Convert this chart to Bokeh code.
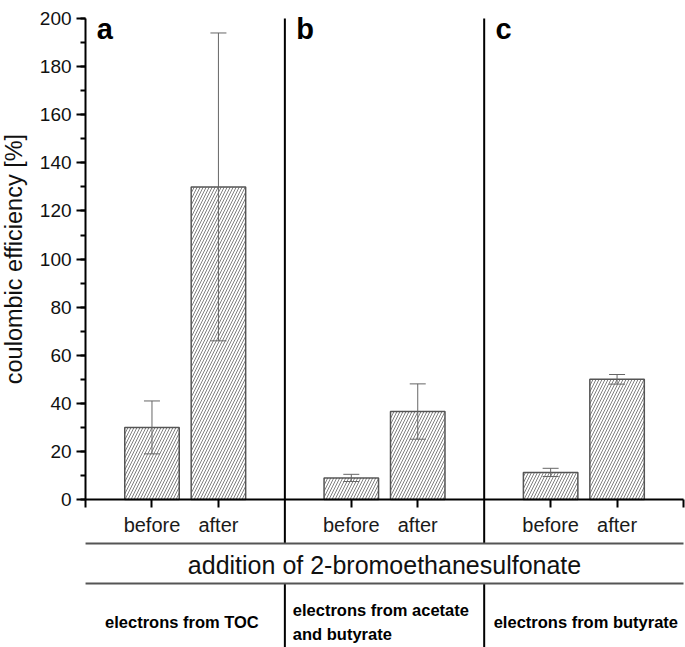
import math
from bokeh.plotting import figure
from bokeh.models import (ColumnDataSource, Whisker, TeeHead, FixedTicker,
                          SingleIntervalTicker, Range1d)
from bokeh.core.properties import value
from bokeh.embed import file_html
from bokeh.resources import INLINE

# ---- data ----
panels = ["a", "b", "c"]
conditions = ["before", "after"]
values = [30, 130, 9, 36.6, 11.3, 50]
errors = [11, 64, 1.5, 11.5, 1.7, 2]
y_label = "coulombic efficiency [%]"
group_title = "addition of 2-bromoethanesulfonate"
panel_notes = ["electrons from TOC", "electrons from acetate\nand butyrate",
               "electrons from butyrate"]
y_ticks_interval = 20
y_max = 200

FONT = "Liberation Sans"
n_panels = len(panels)
slot = len(conditions) + 1          # units per panel
x_end = n_panels * slot

xs = []
labels = []
for i, _ in enumerate(panels):
    for j, c in enumerate(conditions):
        xs.append(i * slot + 1 + j)
        labels.append(c)

src = ColumnDataSource(dict(
    x=xs, top=values, lower=[v - e for v, e in zip(values, errors)],
    upper=[v + e for v, e in zip(values, errors)]))

p = figure(width=685, height=647, output_backend="svg", toolbar_location=None,
           x_range=Range1d(-1.28, x_end + 0.03), y_range=Range1d(-61.5, 207.5),
           min_border_left=0, min_border_right=0, min_border_top=0,
           min_border_bottom=0)
p.outline_line_color = None
p.xgrid.visible = False
p.ygrid.visible = False
p.background_fill_color = "white"

# bars
p.vbar(x="x", top="top", bottom=0, width=0.82, source=src,
       fill_color="white", line_color="#555555", line_width=1.5,
       hatch_pattern="/", hatch_color="#808080", hatch_scale=6,
       hatch_weight=1)

whisk = Whisker(base="x", upper="upper", lower="lower", source=src,
                line_color="#666666", line_width=1, level="annotation",
                upper_head=TeeHead(size=16, line_color="#666666", line_width=1),
                lower_head=TeeHead(size=16, line_color="#666666", line_width=1))
p.add_layout(whisk)

# y axis at x = 0
ya = p.yaxis[0]
ya.fixed_location = 0
ya.bounds = (0, y_max)
ya.ticker = SingleIntervalTicker(interval=y_ticks_interval, num_minor_ticks=2)
ya.major_label_text_font = FONT
ya.major_label_text_font_size = "19px"
ya.major_label_text_color = "#111111"
ya.major_label_standoff = 5
ya.axis_line_width = 2
ya.major_tick_line_width = 2
ya.minor_tick_line_width = 2
ya.major_tick_out = 9
ya.major_tick_in = 0
ya.minor_tick_out = 5
ya.minor_tick_in = 0

# y axis title, centred on the 0..200 part of the axis
p.text(x=[-1.07], y=[y_max / 2], text=[y_label], angle=math.pi / 2,
       text_font=value(FONT), text_font_size="23.5px", text_color="#111111",
       text_align="center", text_baseline="alphabetic")

# x axis at y = 0
xa = p.xaxis[0]
xa.fixed_location = 0
xa.bounds = (0, x_end)
tick_pos = [0] + xs + [x_end]
xa.ticker = FixedTicker(ticks=tick_pos, minor_ticks=[])
overrides = {t: "" for t in tick_pos}
for x, l in zip(xs, labels):
    overrides[x] = l
xa.major_label_overrides = overrides
xa.major_label_text_font = FONT
xa.major_label_text_font_size = "20px"
xa.major_label_text_color = "#1a1a1a"
xa.major_label_standoff = 6
xa.axis_line_width = 2
xa.major_tick_line_width = 2
xa.major_tick_out = 8
xa.major_tick_in = 0

# panel separators
seps = [i * slot for i in range(1, n_panels)]
row1_y = -18.3
row2_y = -34.9
p.segment(x0=seps, x1=seps, y0=[y_max] * len(seps), y1=[row1_y] * len(seps),
          line_color="black", line_width=2)
p.segment(x0=seps, x1=seps, y0=[row2_y] * len(seps), y1=[-70] * len(seps),
          line_color="black", line_width=2)
# horizontal rules
p.segment(x0=[0, 0], x1=[x_end, x_end], y0=[row1_y, row2_y], y1=[row1_y, row2_y],
          line_color="#555555", line_width=2)

# panel letters
p.text(x=[i * slot + 0.17 for i in range(n_panels)], y=[195.6] * n_panels,
       text=panels, text_font=value(FONT), text_font_style="bold",
       text_font_size="29px", text_color="black", text_baseline="alphabetic",
       text_align="left")

# group title
p.text(x=[x_end / 2], y=[-27.0], text=[group_title], text_font=value(FONT),
       text_font_size="25px", text_color="#111111", text_align="center",
       text_baseline="alphabetic")

# bottom notes
p.text(x=[0 * slot + 1.45, 2 * slot + 1.53], y=[-50.7, -50.7],
       text=[panel_notes[0], panel_notes[2]], text_font=value(FONT),
       text_font_style="bold", text_font_size="16.5px", text_color="black",
       text_align="center", text_baseline="alphabetic")
p.text(x=[1 * slot + 0.12], y=[-42.0], text=[panel_notes[1]],
       text_font=value(FONT), text_font_style="bold", text_font_size="16.5px",
       text_color="black", text_align="left", text_baseline="top",
       text_line_height=1.33)

open("out.html", "w").write(file_html(p, INLINE))
